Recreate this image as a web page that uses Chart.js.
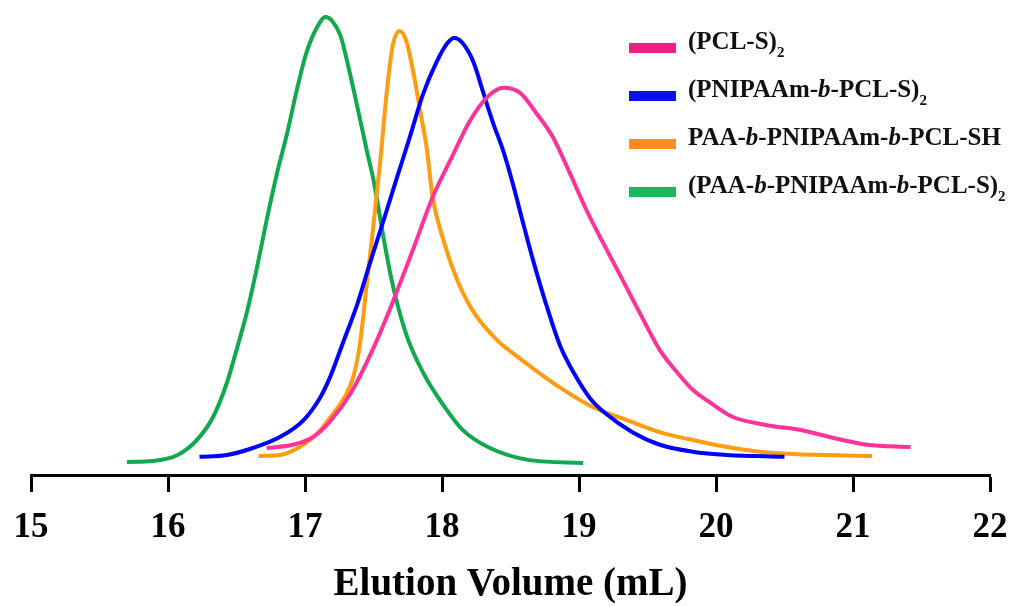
<!DOCTYPE html>
<html>
<head>
<meta charset="utf-8">
<script src="https://cdn.jsdelivr.net/npm/chart.js@4.4.1/dist/chart.umd.min.js"></script>
<style>
  html, body { margin: 0; padding: 0; background: #fff; }
  #wrap { width: 1015px; height: 606px; position: relative; }
</style>
</head>
<body>
<div id="wrap"><canvas id="gpcChart"></canvas></div>
<script>
// series labels (markup: *b* = italic, _2 = subscript)
const seriesLabels = [
  '(PCL-S)_2',
  '(PNIPAAm-*b*-PCL-S)_2',
  'PAA-*b*-PNIPAAm-*b*-PCL-SH',
  '(PAA-*b*-PNIPAAm-*b*-PCL-S)_2'
];
const seriesColors = ['#ff3399', '#0000ff', '#ff9c12', '#11a84f'];
const legendColors = ['#ee1f85', '#0a10f0', '#ff8a1e', '#1fb55a'];

const xTicks = [15, 16, 17, 18, 19, 20, 21, 22];

// (PCL-S)2
const pclVol = [16.72, 16.91, 17.06, 17.18, 17.33, 17.50, 17.64, 17.79, 17.93, 18.08, 18.20, 18.33, 18.45, 18.57, 18.69, 18.81, 18.93, 19.06, 19.18, 19.30, 19.47, 19.59, 19.72, 19.83, 19.96, 20.12, 20.37, 20.61, 20.85, 21.10, 21.42];
const pclSig = [6.0, 6.7, 8.4, 11.6, 17.6, 27.5, 37.3, 48.7, 59.7, 68.9, 76.0, 81.3, 83.3, 82.2, 77.8, 72.7, 65.2, 56.7, 49.8, 43.1, 33.5, 27.0, 22.1, 18.5, 15.7, 12.7, 10.9, 9.9, 8.2, 6.7, 6.2];

// (PNIPAAm-b-PCL-S)2
const pnipVol = [16.23, 16.43, 16.62, 16.82, 16.99, 17.11, 17.18, 17.28, 17.38, 17.47, 17.57, 17.67, 17.77, 17.86, 17.96, 18.04, 18.09, 18.15, 18.23, 18.30, 18.37, 18.45, 18.52, 18.59, 18.66, 18.75, 18.86, 18.97, 19.08, 19.19, 19.39, 19.59, 19.83, 20.08, 20.50];
const pnipSig = [4.1, 4.5, 6.0, 8.4, 12.0, 16.8, 21.0, 28.8, 36.7, 45.3, 54.5, 63.9, 73.2, 81.8, 88.8, 92.9, 94.0, 92.9, 88.8, 82.4, 76.0, 69.5, 62.4, 54.5, 46.8, 37.8, 28.1, 21.7, 16.7, 13.5, 9.4, 6.7, 5.2, 4.5, 4.1];

// PAA-b-PNIPAAm-b-PCL-SH
const paaShVol = [16.66, 16.82, 16.96, 17.11, 17.18, 17.28, 17.35, 17.40, 17.45, 17.50, 17.55, 17.60, 17.64, 17.69, 17.74, 17.79, 17.84, 17.89, 17.93, 18.01, 18.11, 18.23, 18.40, 18.55, 18.64, 18.84, 19.10, 19.35, 19.59, 19.83, 20.08, 20.32, 20.56, 21.14];
const paaShSig = [4.3, 4.5, 6.2, 9.7, 12.4, 16.5, 21.0, 28.1, 41.0, 53.9, 67.8, 83.3, 92.3, 95.5, 93.3, 86.7, 78.5, 70.0, 60.1, 50.6, 42.1, 35.2, 29.2, 25.6, 23.6, 19.4, 14.8, 12.0, 9.4, 7.7, 6.2, 5.2, 4.7, 4.3];

// (PAA-b-PNIPAAm-b-PCL-S)2
const paaSVol = [15.70, 15.89, 16.07, 16.21, 16.33, 16.43, 16.50, 16.58, 16.65, 16.72, 16.80, 16.87, 16.94, 17.01, 17.09, 17.15, 17.20, 17.26, 17.33, 17.40, 17.45, 17.50, 17.53, 17.58, 17.64, 17.74, 17.86, 18.01, 18.15, 18.35, 18.64, 19.03];
const paaSSig = [3.0, 3.2, 4.5, 7.7, 12.7, 20.0, 27.0, 35.6, 44.8, 54.9, 65.5, 73.6, 82.8, 90.8, 96.4, 98.5, 97.6, 94.4, 86.1, 76.8, 70.0, 63.5, 58.6, 50.0, 41.0, 30.3, 22.3, 15.2, 9.9, 6.0, 3.4, 2.8];

const seriesVol = [pclVol, pnipVol, paaShVol, paaSVol];
const seriesSig = [pclSig, pnipSig, paaShSig, paaSSig];

const serif = '"Liberation Serif", "Times New Roman", serif';

// split a label into styled pieces
function labelParts(label) {
  const parts = [];
  const re = /\*([^*]+)\*|_(\w)|([^*_]+)/g;
  let m;
  while ((m = re.exec(label)) !== null) {
    if (m[1]) parts.push({ text: m[1], italic: true });
    else if (m[2]) parts.push({ text: m[2], sub: true });
    else parts.push({ text: m[3] });
  }
  return parts;
}

const richLegend = {
  id: 'richLegend',
  afterDraw(chart) {
    const ctx = chart.ctx;
    ctx.save();
    chart.data.datasets.forEach((ds, i) => {
      const cy = 48 + i * 48;
      ctx.fillStyle = legendColors[i];
      ctx.fillRect(629, cy - 5, 47, 10);
      let x = 688;
      ctx.fillStyle = '#111';
      ctx.textBaseline = 'alphabetic';
      ctx.textAlign = 'left';
      labelParts(ds.label).forEach(p => {
        if (p.sub) {
          ctx.font = 'bold 15px ' + serif;
          ctx.fillText(p.text, x, cy + 9);
        } else {
          ctx.font = (p.italic ? 'italic ' : '') + 'bold 25px ' + serif;
          ctx.fillText(p.text, x, cy + 1);
        }
        x += ctx.measureText(p.text).width;
      });
    });
    ctx.restore();
  }
};

const datasets = seriesLabels.map((label, i) => ({
  label: label,
  data: seriesVol[i].map((v, j) => ({ x: v, y: seriesSig[i][j] })),
  borderColor: seriesColors[i],
  borderWidth: 4,
  pointRadius: 0,
  cubicInterpolationMode: 'monotone',
  fill: false
}));

new Chart(document.getElementById('gpcChart'), {
  type: 'line',
  data: { datasets: datasets },
  options: {
    responsive: true,
    maintainAspectRatio: false,
    animation: false,
    layout: { padding: { left: 31, right: 25, top: 10, bottom: 0 } },
    plugins: {
      legend: { display: false },
      tooltip: { enabled: false }
    },
    scales: {
      x: {
        type: 'linear',
        min: xTicks[0],
        max: xTicks[xTicks.length - 1],
        afterBuildTicks: axis => { axis.ticks = xTicks.map(v => ({ value: v })); },
        grid: {
          display: true,
          drawOnChartArea: false,
          drawTicks: true,
          tickLength: 16,
          tickWidth: 3,
          tickColor: '#000'
        },
        border: { display: true, color: '#000', width: 3 },
        ticks: {
          color: '#000',
          padding: 6,
          maxRotation: 0,
          font: { family: serif, size: 35, weight: 'bold', lineHeight: 1.69 }
        },
        title: {
          display: true,
          text: 'Elution Volume (mL)',
          color: '#000',
          padding: 0,
          font: { family: serif, size: 39, weight: 'bold', lineHeight: 1.1 }
        }
      },
      y: {
        display: false,
        min: 0,
        max: 100
      }
    }
  },
  plugins: [richLegend]
});
</script>
</body>
</html>
